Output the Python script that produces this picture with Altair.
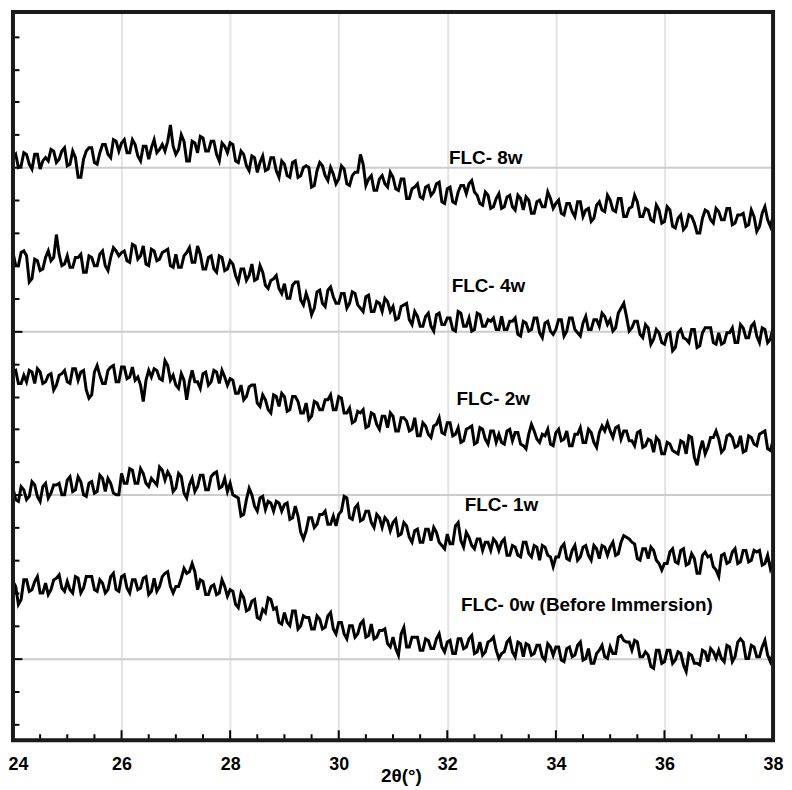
import altair as alt
import pandas as pd

# 2-theta sampling (degrees), 0.05 degree step from 24 to 38
TWO_THETA = [round(24 + i / 20, 2) for i in range(281)]

FLC_8W = [
    356, 358, 350, 351, 359, 358, 352, 349, 358, 358, 349, 354, 356, 354, 361, 360, 353, 355, 360, 362,
    351, 352, 360, 356, 344, 344, 355, 360, 362, 362, 353, 352, 359, 364, 364, 358, 356, 367, 366, 360,
    365, 367, 359, 359, 367, 364, 357, 354, 363, 363, 355, 362, 367, 359, 361, 364, 360, 366, 376, 363,
    358, 361, 370, 366, 354, 354, 366, 365, 359, 369, 368, 360, 360, 366, 366, 358, 354, 365, 363, 359,
    365, 364, 354, 353, 360, 358, 351, 348, 357, 356, 347, 353, 357, 348, 349, 356, 356, 348, 344, 354,
    352, 345, 344, 353, 354, 344, 345, 350, 351, 350, 338, 339, 348, 353, 351, 345, 342, 350, 346, 340,
    343, 351, 349, 340, 339, 345, 347, 347, 358, 352, 339, 343, 345, 336, 336, 343, 345, 340, 338, 347,
    344, 337, 336, 343, 343, 331, 331, 337, 338, 340, 332, 331, 338, 339, 333, 335, 340, 341, 329, 328,
    337, 338, 329, 328, 335, 339, 339, 334, 340, 342, 335, 333, 328, 327, 335, 333, 325, 326, 331, 334,
    325, 326, 332, 333, 326, 324, 333, 331, 324, 332, 330, 322, 322, 329, 330, 326, 326, 335, 331, 325,
    328, 330, 322, 321, 328, 328, 323, 320, 329, 329, 320, 324, 325, 317, 319, 327, 329, 324, 323, 333,
    330, 324, 323, 331, 331, 320, 320, 325, 326, 333, 329, 320, 320, 325, 324, 318, 317, 327, 324, 316,
    317, 326, 324, 314, 313, 319, 321, 312, 314, 321, 320, 316, 310, 310, 319, 324, 323, 318, 316, 325,
    323, 318, 318, 325, 325, 315, 316, 321, 321, 322, 314, 315, 324, 320, 311, 314, 322, 326, 318, 314,
    320,
]

FLC_4W = [
    298, 290, 290, 298, 299, 296, 280, 282, 294, 293, 287, 288, 295, 299, 293, 295, 309, 297, 290, 291,
    296, 289, 289, 295, 295, 297, 286, 286, 296, 295, 290, 290, 297, 299, 290, 287, 295, 301, 299, 296,
    298, 299, 293, 292, 303, 302, 294, 296, 302, 291, 290, 300, 299, 293, 294, 298, 299, 300, 290, 289,
    297, 289, 289, 296, 298, 301, 292, 292, 302, 297, 288, 288, 295, 296, 288, 286, 296, 295, 287, 288,
    293, 291, 284, 280, 288, 288, 281, 284, 291, 281, 282, 290, 286, 278, 276, 281, 282, 284, 276, 273,
    279, 270, 270, 278, 280, 280, 269, 266, 273, 268, 260, 264, 274, 275, 267, 265, 275, 277, 271, 267,
    267, 273, 273, 264, 267, 274, 273, 266, 264, 262, 271, 272, 262, 262, 268, 267, 262, 270, 268, 262,
    265, 257, 258, 265, 266, 267, 257, 254, 262, 259, 253, 253, 259, 261, 253, 250, 260, 261, 254, 254,
    258, 258, 251, 250, 262, 261, 253, 253, 258, 250, 251, 261, 260, 253, 253, 257, 256, 258, 251, 251,
    259, 251, 251, 256, 256, 258, 248, 247, 256, 255, 250, 251, 258, 258, 249, 246, 255, 256, 250, 248,
    251, 257, 257, 247, 250, 258, 258, 251, 249, 247, 255, 259, 251, 251, 257, 257, 253, 261, 259, 254,
    257, 250, 252, 261, 264, 267, 259, 250, 252, 256, 256, 248, 246, 254, 252, 242, 245, 251, 249, 243,
    242, 248, 249, 238, 240, 249, 251, 246, 245, 243, 251, 251, 240, 241, 249, 252, 252, 252, 243, 242,
    249, 242, 243, 249, 249, 252, 243, 243, 254, 252, 246, 246, 253, 255, 247, 243, 252, 251, 243, 245,
    252,
]

FLC_2W = [
    225, 226, 218, 218, 223, 219, 226, 225, 218, 227, 225, 218, 219, 223, 224, 214, 217, 223, 224, 226,
    219, 218, 227, 227, 220, 225, 226, 214, 209, 211, 225, 229, 223, 218, 218, 226, 228, 229, 219, 219,
    228, 228, 221, 222, 228, 220, 222, 217, 207, 220, 226, 222, 227, 226, 221, 220, 232, 229, 220, 223,
    217, 215, 224, 220, 208, 219, 226, 219, 219, 215, 224, 225, 217, 219, 226, 225, 218, 226, 222, 217,
    221, 220, 212, 212, 217, 208, 210, 216, 217, 217, 206, 204, 211, 208, 202, 200, 211, 210, 204, 212,
    210, 201, 202, 210, 210, 207, 200, 200, 206, 196, 198, 207, 206, 202, 202, 208, 208, 211, 202, 202,
    210, 209, 200, 200, 203, 194, 195, 201, 200, 202, 191, 192, 200, 199, 193, 190, 198, 198, 191, 200,
    198, 189, 189, 197, 197, 195, 189, 190, 197, 186, 186, 194, 192, 187, 185, 192, 193, 197, 188, 187,
    194, 194, 186, 187, 191, 182, 183, 190, 191, 192, 181, 182, 191, 190, 184, 181, 189, 189, 182, 187,
    182, 181, 189, 190, 183, 188, 188, 181, 180, 178, 187, 193, 189, 184, 182, 187, 186, 190, 181, 180,
    188, 190, 183, 184, 189, 180, 180, 187, 187, 191, 182, 182, 190, 188, 182, 179, 188, 192, 189, 194,
    189, 185, 191, 192, 184, 189, 189, 183, 183, 180, 188, 189, 179, 180, 184, 183, 176, 185, 183, 175,
    175, 182, 181, 177, 176, 175, 183, 182, 175, 186, 185, 173, 168, 177, 183, 175, 179, 185, 185, 189,
    184, 176, 178, 186, 187, 185, 179, 180, 186, 176, 177, 186, 185, 181, 180, 187, 188, 189, 178, 177,
    183,
]

FLC_1W = [
    154, 147, 146, 155, 153, 147, 149, 158, 156, 149, 146, 155, 157, 148, 151, 156, 156, 157, 150, 150,
    159, 161, 152, 153, 161, 158, 150, 149, 157, 158, 151, 152, 162, 160, 152, 160, 157, 151, 150, 150,
    163, 157, 157, 166, 165, 157, 157, 166, 163, 157, 155, 160, 158, 156, 167, 165, 159, 164, 161, 152,
    154, 163, 161, 151, 148, 156, 160, 152, 155, 162, 162, 153, 153, 161, 163, 164, 154, 155, 160, 152,
    157, 150, 149, 148, 137, 138, 147, 154, 150, 143, 140, 148, 149, 141, 146, 145, 140, 146, 145, 140,
    144, 145, 135, 136, 143, 137, 127, 123, 128, 136, 136, 130, 132, 138, 138, 140, 132, 132, 137, 131,
    138, 140, 149, 148, 136, 135, 142, 144, 134, 135, 140, 140, 133, 130, 138, 136, 130, 136, 134, 128,
    133, 135, 125, 126, 133, 131, 124, 121, 128, 129, 121, 121, 129, 129, 122, 130, 127, 121, 119, 117,
    126, 120, 120, 131, 133, 122, 118, 127, 124, 119, 117, 123, 123, 116, 121, 121, 116, 123, 121, 116,
    121, 123, 113, 113, 119, 118, 113, 112, 121, 121, 114, 112, 119, 118, 110, 119, 118, 113, 112, 106,
    112, 112, 118, 120, 111, 110, 116, 119, 110, 112, 118, 119, 113, 110, 119, 117, 111, 119, 118, 113,
    118, 121, 113, 114, 121, 125, 124, 123, 121, 120, 111, 110, 117, 117, 111, 118, 116, 110, 108, 104,
    108, 108, 115, 117, 109, 108, 116, 117, 107, 108, 114, 111, 102, 102, 113, 115, 112, 113, 106, 104,
    100, 113, 114, 108, 109, 115, 117, 108, 109, 116, 116, 109, 110, 116, 115, 116, 107, 108, 113, 105,
    110,
]

FLC_0W = [
    97, 94, 83, 86, 98, 98, 91, 92, 97, 100, 90, 90, 96, 89, 92, 98, 99, 101, 93, 91,
    97, 92, 90, 100, 99, 90, 93, 100, 100, 100, 92, 91, 98, 96, 90, 92, 100, 102, 92, 91,
    100, 101, 93, 90, 98, 98, 92, 93, 99, 100, 89, 91, 99, 91, 94, 100, 102, 103, 94, 90,
    94, 94, 99, 105, 102, 103, 108, 103, 92, 98, 97, 89, 89, 94, 95, 89, 90, 98, 94, 88,
    92, 91, 83, 81, 90, 87, 79, 80, 85, 86, 75, 74, 80, 78, 87, 86, 80, 81, 72, 71,
    78, 72, 70, 79, 79, 68, 70, 76, 75, 75, 68, 68, 76, 74, 68, 69, 76, 78, 68, 65,
    72, 72, 65, 62, 70, 70, 63, 65, 71, 73, 63, 64, 71, 62, 63, 67, 67, 68, 59, 57,
    63, 56, 52, 65, 69, 57, 57, 63, 63, 63, 55, 55, 62, 61, 56, 56, 62, 65, 57, 54,
    60, 61, 53, 53, 62, 62, 56, 57, 62, 64, 53, 54, 60, 52, 54, 60, 61, 63, 55, 50,
    53, 54, 60, 62, 54, 51, 60, 59, 51, 59, 58, 52, 53, 58, 58, 51, 49, 59, 57, 52,
    57, 57, 49, 48, 56, 57, 51, 52, 58, 60, 49, 50, 56, 47, 47, 53, 55, 58, 51, 50,
    57, 53, 53, 63, 64, 61, 60, 60, 55, 61, 60, 51, 51, 54, 52, 45, 44, 55, 55, 47,
    48, 55, 55, 47, 49, 54, 53, 46, 42, 53, 52, 47, 47, 46, 55, 54, 48, 56, 54, 50,
    55, 50, 48, 58, 57, 48, 51, 60, 62, 60, 50, 50, 58, 57, 51, 51, 57, 61, 52, 48,
    53,
]

SERIES = ["FLC- 8w", "FLC- 4w", "FLC- 2w", "FLC- 1w", "FLC- 0w"]
SERIES_VALUES = [FLC_8W, FLC_4W, FLC_2W, FLC_1W, FLC_0W]

LABEL_TEXT = ["FLC- 8w", "FLC- 4w", "FLC- 2w", "FLC- 1w", "FLC- 0w (Before Immersion)"]
LABEL_X = [32.03, 32.08, 32.17, 32.32, 32.25]
LABEL_Y = [355.5, 277.8, 208.5, 144.0, 82.4]

X_MAJOR = [24, 26, 28, 30, 32, 34, 36, 38]
X_MINOR = [24.5, 25, 25.5, 26.5, 27, 27.5, 28.5, 29, 29.5, 30.5, 31, 31.5,
           32.5, 33, 33.5, 34.5, 35, 35.5, 36.5, 37, 37.5]
Y_GRID = [50, 150, 250, 350]
Y_TICKS = [10, 30, 50, 70, 90, 110, 130, 150, 170, 190, 210, 230, 250, 270, 290,
           310, 330, 350, 370, 390, 410, 430]

rows = []
for name, vals in zip(SERIES, SERIES_VALUES):
    for t, v in zip(TWO_THETA, vals):
        rows.append({"series": name, "two_theta": t, "intensity": v})
df = pd.DataFrame(rows)

labels_df = pd.DataFrame({"text": LABEL_TEXT, "x": LABEL_X, "y": LABEL_Y})
major_df = pd.DataFrame({"t": X_MAJOR})
minor_df = pd.DataFrame({"t": X_MINOR})
frame_df = pd.DataFrame({"frame": [1]})

W, H = 764, 732
FONT = "Liberation Sans"
xscale = alt.Scale(domain=[24, 38], nice=False, zero=False)
yscale = alt.Scale(domain=[0, 445], nice=False, zero=False)

lines = alt.Chart(df).mark_line(color="black", strokeWidth=3).encode(
    x=alt.X("two_theta:Q", scale=xscale, axis=alt.Axis(
        values=X_MAJOR, grid=True, gridColor="#e3e3e3", gridWidth=2,
        gridOpacity={"condition": {"test": "datum.value == 24 || datum.value == 38", "value": 0}, "value": 1},
        ticks=False, tickSize=0, domain=False, labelFlush=False,
        labelAlign={"condition": {"test": "datum.value == 24", "value": "left"}, "value": "center"},
        labelOffset={"condition": {"test": "datum.value == 24", "value": -5}, "value": 0},
        labelFont=FONT, labelFontSize=18, labelFontWeight="bold", labelColor="black",
        labelPadding=15,
        title="2θ(°)", titleFont=FONT, titleFontSize=19, titleFontWeight="bold",
        titleColor="black", titleY=41, titleX=390, titleBaseline="alphabetic")),
    y=alt.Y("intensity:Q", scale=yscale, axis=alt.Axis(
        values=Y_GRID, grid=True, gridColor="#cccccc", gridWidth=2,
        ticks=False, labels=False, domain=False, title="")),
    detail="series:N",
)

yticks = alt.Chart(df).mark_line(opacity=0).encode(
    x=alt.X("two_theta:Q", scale=xscale, axis=None),
    y=alt.Y("intensity:Q", scale=yscale, axis=alt.Axis(
        orient="right", offset=-W, values=Y_TICKS, labels=False, domain=False, grid=False,
        tickColor="black", tickWidth=2,
        tickSize={"condition": {"test": "(datum.value - 50) % 100 === 0", "value": 9}, "value": 6},
        title="")),
    detail="series:N",
)

xticks_major = alt.Chart(major_df).mark_rule(color="black", strokeWidth=2).encode(
    x=alt.X("t:Q", scale=xscale, axis=None),
    y=alt.value(H),
    y2=alt.value(H - 10),
)

xticks_minor = alt.Chart(minor_df).mark_rule(color="black", strokeWidth=2).encode(
    x=alt.X("t:Q", scale=xscale, axis=None),
    y=alt.value(H),
    y2=alt.value(H - 6),
)

text = alt.Chart(labels_df).mark_text(
    align="left", baseline="middle", font=FONT, fontSize=19, fontWeight="bold", color="black"
).encode(
    x=alt.X("x:Q", scale=xscale, axis=None),
    y=alt.Y("y:Q", scale=yscale, axis=None),
    text="text:N",
)

frame = alt.Chart(frame_df).mark_rect(
    filled=False, stroke="#1a1a1a", strokeWidth=4
).encode(
    x=alt.XDatum(24, scale=xscale, axis=None),
    x2=alt.X2Datum(38),
    y=alt.YDatum(0, scale=yscale, axis=None),
    y2=alt.Y2Datum(445),
)

chart = alt.layer(lines, yticks, xticks_major, xticks_minor, text, frame).resolve_axis(
    x="independent", y="independent"
).properties(
    width=W, height=H,
    padding={"left": 5, "top": 2, "right": 11, "bottom": 46},
    autosize=alt.AutoSizeParams(type="none"),
).configure_view(strokeWidth=0)

chart.save("out.html", embed_options={"renderer": "svg", "actions": False})
